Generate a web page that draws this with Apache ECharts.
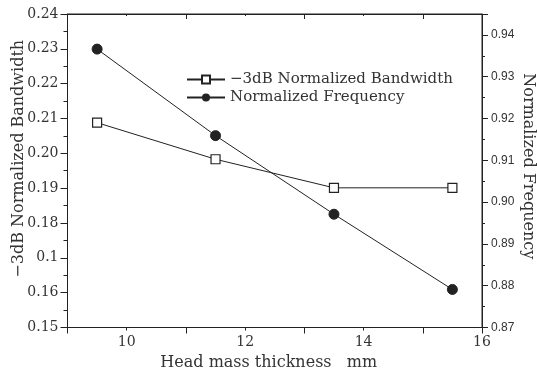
<!DOCTYPE html>
<html>
<head>
<meta charset="utf-8">
<script src="https://cdn.jsdelivr.net/npm/echarts@6/dist/echarts.min.js"></script>
<style>html,body{margin:0;padding:0;background:#fff}#c{width:537px;height:372px}</style>
</head>
<body>
<div id="c"></div>
<script>
var thickness = [9.5, 11.5, 13.5, 15.5];
var bandwidth = [0.2088, 0.1983, 0.1901, 0.1901];
var frequency = [0.9366, 0.9159, 0.8971, 0.8791];
var leftTickLabels = ['0.15','0.16','0.1','0.18','0.19','0.20','0.21','0.22','0.23','0.24'];
var rightTickLabels = ['0.87','0.88','0.89','0.90','0.91','0.92','0.93','0.94'];
var xTickLabels = {10:'10', 12:'12', 14:'14', 16:'16'};

var serif = 'DejaVu Serif';
var sans = 'Liberation Sans';
var ink = '#222';

var chart = echarts.init(document.getElementById('c'), null, {renderer:'canvas'});
function pairs(xs, ys){ return xs.map(function(x,i){return [x, ys[i]];}); }

var baseX = {min:9, max:16, splitLine:{show:false}, axisLine:{show:true, lineStyle:{color:ink, width:1}}};
var option = {
  animation:false,
  backgroundColor:'#fff',
  grid:{left:67.5, right:55, top:14, bottom:44.5, show:true, borderColor:ink, borderWidth:1, containLabel:false, outerBoundsMode:'none'},
  legend:{
    orient:'vertical', left:181, top:67, itemGap:3, itemWidth:38, itemHeight:10,
    textStyle:{fontFamily:serif, fontSize:15, color:'#333'},
    data:['\u22123dB Normalized Bandwidth','Normalized Frequency']
  },
  xAxis:[
    Object.assign({}, baseX, {type:'value', position:'bottom', interval:1,
      name:'Head mass thickness   mm', nameLocation:'middle', nameGap:27, nameMoveOverlap:false,
      nameTextStyle:{fontFamily:serif, fontSize:16, color:'#333', padding:[0,12,0,0]},
      axisTick:{show:true, inside:false, length:3, lineStyle:{color:ink}},
      axisLabel:{fontFamily:serif, fontSize:14, color:'#333', margin:8,
        formatter:function(v){ var k=Math.round(v); return xTickLabels[k] || ''; }}}),
    Object.assign({}, baseX, {type:'value', position:'bottom', interval:2,
      axisTick:{show:true, inside:false, length:6, lineStyle:{color:ink}},
      axisLabel:{show:false}}),
    Object.assign({}, baseX, {type:'value', position:'top', interval:1,
      axisTick:{show:true, inside:true, length:2, lineStyle:{color:ink}},
      axisLabel:{show:false}}),
    Object.assign({}, baseX, {type:'value', position:'top', interval:2,
      axisTick:{show:true, inside:true, length:5, lineStyle:{color:ink}},
      axisLabel:{show:false}})
  ],
  yAxis:[
    {type:'value', position:'left', min:0.15, max:0.24, interval:0.01,
      name:'\u22123dB Normalized Bandwidth', nameLocation:'middle', nameGap:41, nameMoveOverlap:false,
      nameTextStyle:{fontFamily:serif, fontSize:16, color:'#333', padding:[0,0,0,24]},
      splitLine:{show:false},
      axisLine:{show:true, lineStyle:{color:ink}},
      axisTick:{show:true, inside:false, length:7, lineStyle:{color:ink}},
      minorTick:{show:true, splitNumber:2, length:4, lineStyle:{color:ink}},
      axisLabel:{fontFamily:serif, fontSize:14, color:'#333', margin:9,
        formatter:function(v){ var i=Math.round((v-0.15)/0.01); return leftTickLabels[i] || ''; }}},
    {type:'value', position:'right', min:0.87, max:0.945, interval:0.01,
      name:'Normalized Frequency', nameLocation:'middle', nameGap:38, nameRotate:-90, nameMoveOverlap:false,
      nameTextStyle:{fontFamily:serif, fontSize:16, color:'#333', padding:[0,9,0,0]},
      splitLine:{show:false},
      axisLine:{show:true, lineStyle:{color:ink}},
      axisTick:{show:true, inside:false, length:6, lineStyle:{color:ink}},
      axisLabel:{fontFamily:sans, fontSize:12, color:'#333', margin:9,
        formatter:function(v){ var i=Math.round((v-0.87)/0.01); if (Math.abs(v-(0.87+i*0.01))>1e-6) return ''; return rightTickLabels[i] || ''; }}},
    {type:'value', position:'right', min:0.87, max:0.945, interval:0.005,
      splitLine:{show:false},
      axisLine:{show:false},
      axisTick:{show:true, inside:false, length:3, lineStyle:{color:ink}},
      axisLabel:{show:false}}
  ],
  series:[
    {name:'\u22123dB Normalized Bandwidth', type:'line', xAxisIndex:0, yAxisIndex:0,
      data:pairs(thickness, bandwidth), symbol:'rect', symbolSize:9,
      lineStyle:{color:ink, width:1},
      itemStyle:{color:'#fff', borderColor:ink, borderWidth:1.2}},
    {name:'Normalized Frequency', type:'line', xAxisIndex:0, yAxisIndex:1,
      data:pairs(thickness, frequency), symbol:'circle', symbolSize:10,
      lineStyle:{color:ink, width:1},
      itemStyle:{color:ink, borderColor:ink}}
  ]
};
chart.setOption(option);
</script>
</body>
</html>
